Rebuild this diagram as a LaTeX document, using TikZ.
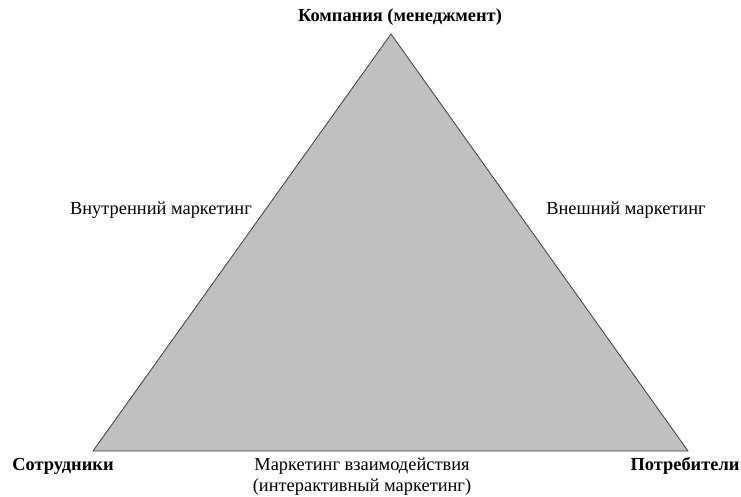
\documentclass[tikz,border=0pt]{standalone}
\usepackage{fontspec}
\setmainfont{Liberation Serif}
\usepackage{tikz}
\usetikzlibrary{positioning}
\definecolor{trigray}{RGB}{192,192,192}
\definecolor{edgegray}{RGB}{60,60,60}

\begin{document}
\begin{tikzpicture}[x=1pt,y=-1pt]
    \useasboundingbox (0,0) rectangle (741,497);
    % triangle
    \coordinate (top) at (391,34);
    \coordinate (left) at (93,451);
    \coordinate (right) at (688,451);
    \filldraw[fill=trigray,draw=edgegray,line width=0.8pt] (top) -- (left) -- (right) -- cycle;
    % corners
    \node[font=\fontsize{18.4}{21}\selectfont\bfseries] (company) at (400,17)
          {Компания (менеджмент)};
    \node[font=\fontsize{18.4}{21}\selectfont\bfseries] (staff) at (63,466)
          {Сотрудники};
    \node[font=\fontsize{18.4}{21}\selectfont\bfseries] (clients) at (685,466)
          {Потребители};
    % sides
    \node[font=\fontsize{18.4}{21}\selectfont] (inner) at (161,210)
          {Внутренний маркетинг};
    \node[font=\fontsize{18.4}{21}\selectfont] (outer) at (626,210)
          {Внешний маркетинг};
    \node[font=\fontsize{18.4}{21}\selectfont,align=center] (interact) at (362,477)
          {Маркетинг взаимодействия\\(интерактивный маркетинг)};
  \end{tikzpicture}
\end{document}
